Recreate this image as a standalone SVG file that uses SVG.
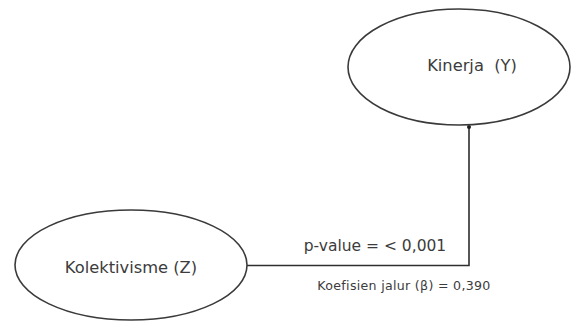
<svg xmlns="http://www.w3.org/2000/svg" width="572" height="323" viewBox="0 0 572 323">
  <style>
    .node { fill: #ffffff; stroke: #3a3a3a; stroke-width: 1.6; }
    .label { font-family: "DejaVu Sans", "Liberation Sans", sans-serif; fill: #3c3c3c; text-anchor: middle; white-space: pre; }
    .edge { fill: none; stroke: #2e2e2e; stroke-width: 1.6; }
  </style>
  <defs>
    <marker id="dot" viewBox="0 0 6 6" refX="3" refY="3" markerWidth="4" markerHeight="4" markerUnits="userSpaceOnUse">
      <circle cx="3" cy="3" r="3" fill="#1e1e1e"/>
    </marker>
  </defs>
  <rect width="572" height="323" fill="#ffffff"/>

  <g id="edges">
    <path class="edge" d="M247,265.5 H469 V127" marker-end="url(#dot)"/>
    <text class="label" x="375" y="251" font-size="15.5">p-value = &lt; 0,001</text>
    <text class="label" x="404" y="290" font-size="12.6" letter-spacing="0.3">Koefisien jalur (β) = 0,390</text>
  </g>

  <g id="kinerja">
    <ellipse class="node" cx="459" cy="67" rx="111" ry="58"/>
    <text class="label" x="472" y="71" font-size="16.3" xml:space="preserve">Kinerja  (Y)</text>
  </g>

  <g id="kolektivisme">
    <ellipse class="node" cx="131" cy="265" rx="116" ry="55"/>
    <text class="label" x="131" y="273" font-size="16.3">Kolektivisme (Z)</text>
  </g>
</svg>
